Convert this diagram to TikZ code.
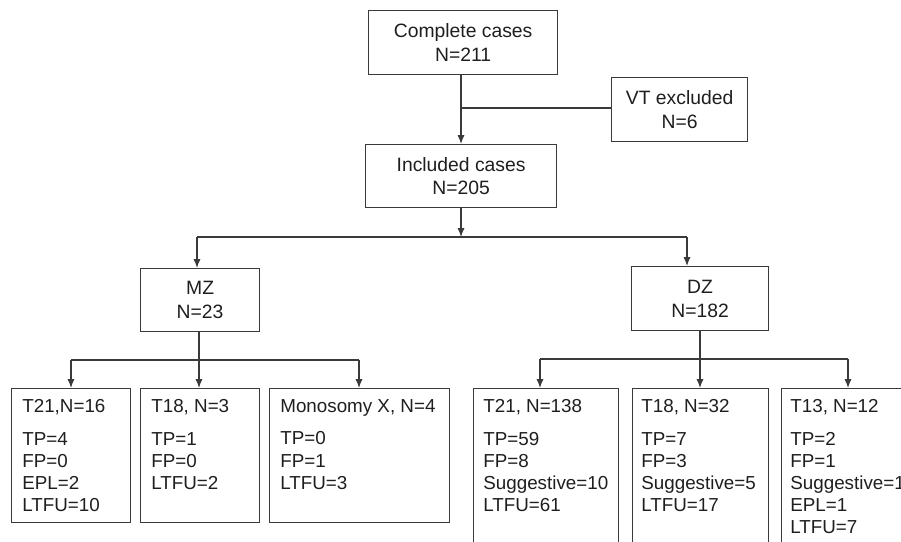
\documentclass[tikz,border=0pt]{standalone}
\usepackage{fontspec}
\setmainfont{Liberation Sans}
\usepackage{tikz}
\usetikzlibrary{arrows.meta}
\definecolor{linegray}{HTML}{3A3A3A}
\definecolor{inkgray}{HTML}{1E1E1E}
\tikzset{
  box/.style={draw=linegray, line width=0.7pt, rectangle, inner sep=0pt, anchor=north west,
    align=center, text=inkgray, font=\fontsize{11}{13.6}\selectfont},
  list/.style={inner sep=0pt, anchor=north west, align=left, text=inkgray,
    font=\fontsize{10.7}{12.6}\selectfont},
  link/.style={draw=linegray, line width=0.7pt},
  arr/.style={link, -{Latex[length=5pt,width=4pt]}}
}
\begin{document}
\begin{tikzpicture}[x=0.02cm, y=-0.02cm]
\useasboundingbox (0,0) rectangle (901,541);
\clip (0,0) rectangle (901,541);
\node[box, minimum width=3.78cm, minimum height=1.28cm] (complete) at (368,10) {Complete cases\\N=211};
\node[box, minimum width=2.72cm, minimum height=1.28cm] (vt) at (611,77) {VT excluded\\N=6};
\node[box, minimum width=3.82cm, minimum height=1.26cm] (included) at (365,144) {Included cases\\N=205};
\node[box, minimum width=2.38cm, minimum height=1.26cm] (mz) at (140,268) {MZ\\N=23};
\node[box, minimum width=2.74cm, minimum height=1.28cm] (dz) at (631,266) {DZ\\N=182};

\node[box, minimum width=2.38cm, minimum height=2.68cm] (t21mz) at (11,388) {};
\node[box, minimum width=2.38cm, minimum height=2.68cm] (t18mz) at (140,388) {};
\node[box, minimum width=3.6cm, minimum height=2.68cm] (monox) at (269,388) {};
\node[box, minimum width=2.9cm, minimum height=4cm] (t21dz) at (473,388) {};
\node[box, minimum width=2.72cm, minimum height=4cm] (t18dz) at (632,388) {};
\node[box, minimum width=3cm, minimum height=4cm] (t13dz) at (781,388) {};

\node[list] (t21mztxt) at ([shift={(11,11)}]t21mz.north west) {T21,N=16\\[6pt]TP=4\\FP=0\\EPL=2\\LTFU=10};
\node[list] (t18mztxt) at ([shift={(11,11)}]t18mz.north west) {T18, N=3\\[6pt]TP=1\\FP=0\\LTFU=2};
\node[list] (monoxtxt) at ([shift={(11,11)}]monox.north west) {Monosomy X, N=4\\[6pt]TP=0\\FP=1\\LTFU=3};
\node[list] (t21dztxt) at ([shift={(10,11)}]t21dz.north west) {T21, N=138\\[6pt]TP=59\\FP=8\\Suggestive=10\\LTFU=61};
\node[list] (t18dztxt) at ([shift={(9,11)}]t18dz.north west) {T18, N=32\\[6pt]TP=7\\FP=3\\Suggestive=5\\LTFU=17};
\node[list] (t13dztxt) at ([shift={(9,11)}]t13dz.north west) {T13, N=12\\[6pt]TP=2\\FP=1\\Suggestive=1\\EPL=1\\LTFU=7};

\coordinate (trunk) at (461,108);
\coordinate (split) at (461,237);
\coordinate (splitl) at (197,237);
\coordinate (splitr) at (687,237);
\coordinate (mzsplit) at (199,360);
\coordinate (mzl) at (71,360);
\coordinate (mzr) at (359,360);
\coordinate (dzsplit) at (700,359);
\coordinate (dzl) at (540,359);
\coordinate (dzr) at (848,359);

\draw[link] (trunk |- complete.south) -- (trunk);
\draw[arr] (trunk) -- (trunk |- included.north);
\draw[link] (trunk) -- (vt.west |- trunk);
\draw[arr] (split |- included.south) -- (split);
\draw[link] (splitl) -- (splitr);
\draw[arr] (splitl) -- (splitl |- mz.north);
\draw[arr] (splitr) -- (splitr |- dz.north);

\draw[link] (mzsplit |- mz.south) -- (mzsplit);
\draw[link] (mzl) -- (mzr);
\draw[arr] (mzl) -- (mzl |- t21mz.north);
\draw[arr] (mzsplit) -- (mzsplit |- t18mz.north);
\draw[arr] (mzr) -- (mzr |- monox.north);

\draw[link] (dzsplit |- dz.south) -- (dzsplit);
\draw[link] (dzl) -- (dzr);
\draw[arr] (dzl) -- (dzl |- t21dz.north);
\draw[arr] (dzsplit) -- (dzsplit |- t18dz.north);
\draw[arr] (dzr) -- (dzr |- t13dz.north);
\end{tikzpicture}
\end{document}
